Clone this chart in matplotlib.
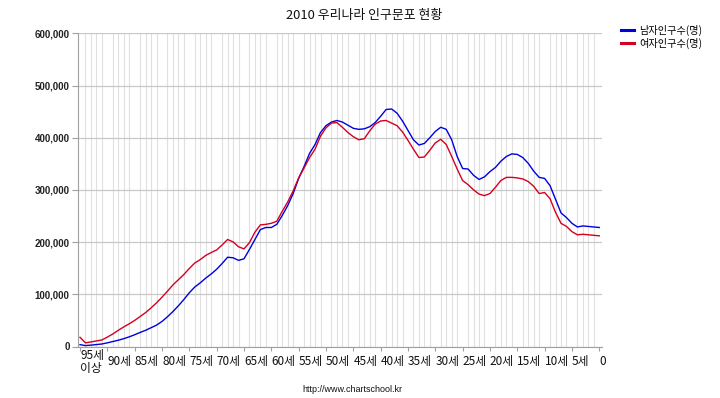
import matplotlib
matplotlib.use("Agg")
import matplotlib.pyplot as plt
import numpy as np

plt.rcParams['font.family'] = ['Noto Sans CJK KR', 'DejaVu Sans']

title = "2010 우리나라 인구문포 현황"
series_names = ["남자인구수(명)", "여자인구수(명)"]
categories = ["95세 이상"] + [f"{a}세" for a in range(94, 0, -1)] + ["0"]

male = [3500, 1800, 2600, 3700, 4800, 7000, 9500, 12000, 15000, 18500,
        22500, 27000, 31000, 36000, 41000, 48000, 57000, 67000, 78000, 90000,
        103000, 114000, 122000, 131000, 139000, 148000, 159000, 171000, 170000, 165000,
        168000, 186000, 205000, 224000, 228000, 228000, 234000, 251000, 270000, 293000,
        322000, 345000, 370000, 387000, 410000, 423000, 430000, 433000, 430000, 424000,
        418000, 416000, 417000, 421000, 429000, 441000, 454000, 455000, 447000, 432000,
        414000, 396000, 386000, 389000, 400000, 412000, 420000, 416000, 396000, 364000,
        341000, 340000, 328000, 320000, 325000, 335000, 343000, 355000, 364000, 369000,
        368000, 362000, 351000, 336000, 324000, 322000, 308000, 282000, 256000, 247000,
        236000, 229000, 231000, 230000, 229000, 228000]

female = [17600, 7000, 8700, 10700, 12500, 18000, 24000, 31000, 37500, 43500,
          50000, 57500, 65000, 74000, 83700, 94500, 106000, 118000, 128000, 138000,
          149500, 160000, 166500, 174500, 180000, 185000, 194500, 205000, 200500, 191000,
          187000, 199000, 219000, 233000, 234000, 236000, 240000, 259000, 277000, 298000,
          323000, 342000, 362000, 378000, 403000, 419000, 428000, 429000, 420000, 410000,
          402000, 396000, 398000, 413000, 426000, 432000, 433000, 428000, 423000, 411000,
          395000, 378000, 362000, 363000, 376000, 390000, 397000, 387000, 364000, 340000,
          318000, 310000, 300000, 292000, 289000, 293000, 305000, 318000, 324000, 324000,
          323000, 321000, 316000, 307000, 293000, 295000, 283000, 257000, 236000, 230000,
          220000, 214000, 215000, 214000, 213000, 212000]

yticks = [0, 100000, 200000, 300000, 400000, 500000, 600000]
xtick_labels = ["95세\n이상", "90세", "85세", "80세", "75세", "70세", "65세", "60세",
                "55세", "50세", "45세", "40세", "35세", "30세", "25세", "20세",
                "15세", "10세", "5세", "0"]

colors = ["#0000dd", "#d40020"]

fig = plt.figure(figsize=(7.2, 3.98), dpi=100)
ax = fig.add_axes([78/720, 1-346.5/398, 524/720, (346.5-33.3)/398])

x = np.arange(len(categories))
l1, = ax.plot(x, male, color=colors[0], lw=1.0, label=series_names[0], zorder=3)
l2, = ax.plot(x, female, color=colors[1], lw=1.0, label=series_names[1], zorder=3)

ax.set_xlim(-0.37, len(categories) - 1 + 0.5)
ax.set_ylim(0, 600000)

# gridlines
ax.set_xticks(x, minor=True)
ax.grid(True, which='minor', axis='x', color='#e0e0e0', lw=0.8, zorder=0)
ax.set_yticks(yticks)
ax.grid(True, which='major', axis='y', color='#c8c8c8', lw=0.9, zorder=1)
ax.tick_params(axis='x', which='minor', length=0)

ax.set_yticklabels([f"{v:,}" for v in yticks], family=['Liberation Sans'],
                   fontsize=7, fontweight='bold', color='#222222')
ax.tick_params(axis='y', length=4, color='#a0a0a0', pad=2)

xt = x[::5]
ax.set_xticks(xt)
ax.set_xticklabels(xtick_labels, fontsize=8.5, ha='left', va='center',
                   multialignment='left', color='#111111', linespacing=1.0)
ax.tick_params(axis='x', which='major', length=3, color='#a0a0a0', pad=8)

for s in ['top', 'right']:
    ax.spines[s].set_visible(False)
ax.spines['left'].set_color('#a0a0a0')
ax.spines['bottom'].set_color('#a0a0a0')
ax.axvline(ax.get_xlim()[1], color='#e0e0e0', lw=0.8, zorder=0)

fig.text(364/720, 1 - 15/398, title, ha='center', va='center', fontsize=9.3, color='#111111')
fig.text(352/720, 1 - 390/398, "http://www.chartschool.kr", ha='center', va='center',
         fontsize=6.5, family=['Liberation Sans'], color='#111111')

leg = fig.legend(handles=[l1, l2], loc='upper left', bbox_to_anchor=(621/720, 1 - 25/398),
                 frameon=False, fontsize=7.3, handlelength=1.3, handletextpad=0.5,
                 labelspacing=0.15, borderpad=0, borderaxespad=0)
for h in leg.legend_handles:
    h.set_linewidth(2.2)

fig.savefig("out.png", dpi=100)
